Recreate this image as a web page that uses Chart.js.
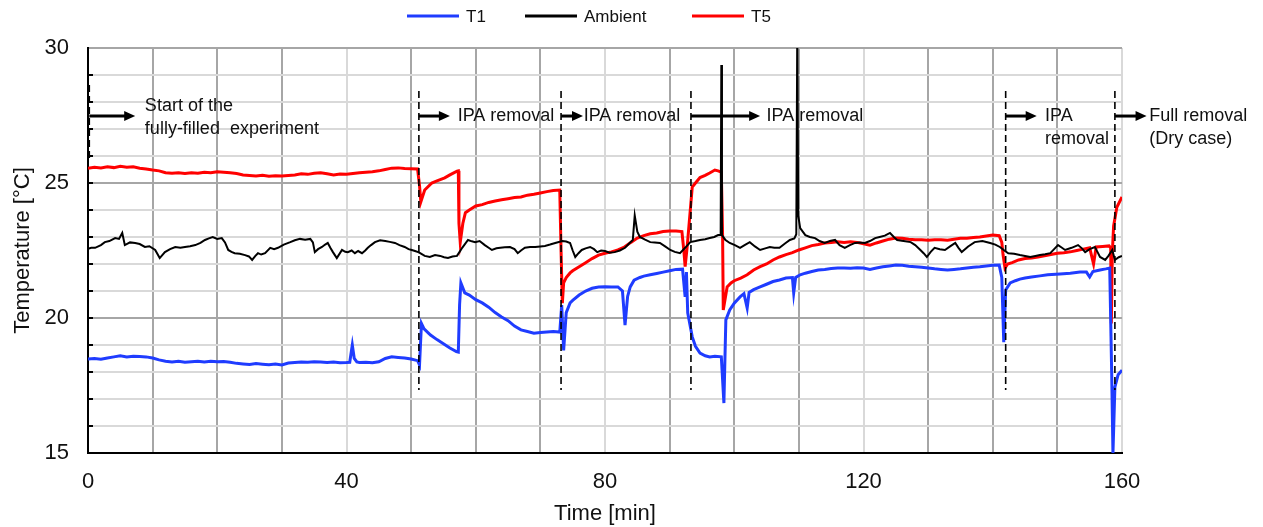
<!DOCTYPE html>
<html><head><meta charset="utf-8">
<script src="https://cdn.jsdelivr.net/npm/chart.js@4.4.1/dist/chart.umd.min.js"></script>
<style>html,body{margin:0;padding:0;background:#fff;}canvas{display:block;}</style>
</head><body>
<canvas id="c" width="1263" height="527"></canvas>
<script>
// ---- Data: [time (min), temperature (°C)] ----
const SERIES_LABELS = ['T1', 'Ambient', 'T5'];
const X_TICK_LABELS = [0, 40, 80, 120, 160];
const Y_TICK_LABELS = [15, 20, 25, 30];

const T1_DATA = [
[0,18.48],[1,18.5],[2,18.47],[3,18.52],[4,18.56],[5,18.6],[6,18.56],[7,18.58],[8,18.57],[9,18.56],[10,18.52],
[11,18.45],[12,18.4],[13,18.37],[14,18.4],[15,18.36],[16,18.38],[17,18.4],[18,18.37],[19,18.4],[20,18.38],
[21,18.39],[22,18.36],[23,18.32],[24,18.3],[25,18.28],[26,18.31],[27,18.29],[28,18.27],[29,18.3],[30,18.26],
[31,18.33],[32,18.35],[33,18.37],[34,18.36],[35,18.38],[36,18.37],[37,18.35],[38,18.37],[39,18.34],[40,18.35],
[40.5,18.36],[40.9,19.0],[41.2,18.5],[41.6,18.37],[42,18.35],[43,18.36],[44,18.34],[45,18.38],[46,18.5],[47,18.56],
[48,18.54],[49,18.52],[50,18.48],[51,18.42],[51.3,18.26],[51.6,19.8],[52,19.6],[53,19.37],[54,19.2],[55,19.05],
[56,18.89],[57,18.76],[57.3,18.74],[57.5,20.5],[57.7,21.3],[58.3,20.93],[59,20.85],[60,20.68],[61,20.56],[62,20.4],
[63,20.2],[64,20.04],[65,19.9],[66,19.7],[67,19.56],[68,19.5],[69,19.44],[70,19.46],[71,19.48],[72,19.5],
[73,19.48],[73.3,20.48],[73.6,18.8],[74,20.2],[74.6,20.56],[75,20.65],[76,20.85],[77,21.0],[78,21.1],[79,21.15],
[80,21.16],[81,21.15],[82,21.15],[82.7,21.0],[83.1,19.74],[83.5,20.8],[83.9,21.15],[84.5,21.4],[85.4,21.5],[86,21.55],
[87,21.6],[88,21.65],[89,21.7],[90,21.75],[91,21.8],[92,21.81],[92.4,20.78],[92.6,21.7],[92.8,20.19],[93.5,19.3],
[94,18.95],[94.7,18.7],[95.5,18.6],[96.2,18.56],[97,18.58],[98,18.56],[98.4,16.85],[98.7,19.93],[99.3,20.3],[100,20.55],
[100.9,20.78],[101.5,20.9],[102,20.37],[102.3,20.95],[103,21.05],[104,21.15],[105,21.25],[106,21.35],[107,21.41],[108,21.48],
[109,21.5],[109.2,20.93],[109.5,21.5],[110.2,21.6],[111,21.66],[112,21.72],[113,21.78],[114,21.8],[115,21.83],[116,21.85],
[117,21.85],[118,21.84],[119,21.86],[120,21.85],[121,21.8],[122,21.85],[123,21.9],[124,21.93],[125,21.96],[126,21.95],
[127,21.92],[128,21.9],[129,21.88],[130,21.85],[131,21.82],[132,21.8],[133,21.78],[134,21.8],[135,21.82],[136,21.85],
[137,21.88],[138,21.9],[139,21.93],[140,21.95],[141,21.96],[141.4,21.5],[141.7,19.1],[142,21.04],[142.7,21.3],[143.5,21.38],
[144.2,21.44],[145,21.48],[146,21.52],[147.3,21.56],[148.5,21.6],[150.4,21.63],[152,21.66],[153.5,21.7],[154.5,21.7],[155,21.52],
[155.5,21.72],[156.6,21.78],[157.5,21.82],[158.1,21.85],[158.4,18.0],[158.6,15.0],[158.9,17.44],[159.4,17.9],[160,18.07]
];

const AMBIENT_DATA = [
[0,22.56],[0.5,22.6],[1.1,22.6],[2,22.7],[2.6,22.81],[3.3,22.85],[4.2,22.96],[4.8,22.93],[5.3,23.15],[5.7,22.7],
[6.5,22.8],[7.3,22.78],[8,22.74],[8.8,22.63],[9.5,22.66],[10.4,22.52],[11.1,22.22],[11.9,22.44],[12.7,22.55],[13.5,22.63],
[14.3,22.6],[15,22.63],[15.8,22.66],[16.6,22.7],[17.4,22.78],[18.1,22.89],[18.7,22.95],[19.3,23.0],[20,22.93],[20.7,22.96],
[21.2,22.8],[21.7,22.52],[22.2,22.45],[22.7,22.4],[23.5,22.38],[24.3,22.33],[24.9,22.28],[25.4,22.15],[25.9,22.3],[26.3,22.4],
[26.8,22.35],[27.4,22.4],[28.2,22.6],[28.8,22.55],[29.4,22.6],[30.3,22.72],[31.3,22.81],[32,22.88],[32.8,22.93],[33.6,22.9],
[34.4,22.93],[34.8,22.8],[35.1,22.44],[35.6,22.55],[36.2,22.63],[36.7,22.72],[37.1,22.78],[37.5,22.6],[37.9,22.44],[38.5,22.22],
[39.3,22.52],[39.8,22.45],[40.2,22.44],[40.8,22.5],[41.3,22.4],[41.8,22.48],[42.4,22.4],[42.9,22.5],[43.3,22.6],[43.8,22.7],
[44.4,22.81],[45.2,22.88],[46,22.85],[46.7,22.82],[47.5,22.78],[48.2,22.7],[49,22.63],[49.6,22.55],[50.1,22.52],[50.6,22.48],
[51.1,22.44],[51.4,22.4],[52.1,22.3],[52.9,22.26],[53.7,22.33],[54.5,22.3],[55.1,22.25],[55.7,22.22],[56.4,22.28],[57.1,22.3],
[57.5,22.45],[57.9,22.6],[58.8,22.89],[59.4,22.84],[59.9,22.81],[60.6,22.85],[61.4,22.7],[62,22.6],[62.5,22.52],[63.2,22.58],
[63.8,22.6],[64.5,22.62],[65.3,22.63],[66,22.55],[66.5,22.4],[67,22.5],[67.6,22.6],[68.4,22.63],[69.2,22.63],[70,22.65],
[70.7,22.67],[71.5,22.72],[72.3,22.78],[73.4,22.85],[74,22.83],[74.6,22.78],[75,22.5],[75.4,22.26],[75.9,22.4],[76.4,22.52],
[77,22.58],[77.7,22.63],[78.3,22.55],[78.8,22.44],[79.4,22.5],[80,22.48],[80.7,22.42],[81.5,22.44],[82.3,22.5],[83.1,22.6],
[83.7,22.75],[84.3,22.89],[84.6,23.8],[85,23.2],[85.4,23.0],[86.2,22.9],[87,22.81],[87.7,22.8],[88.5,22.78],[89.3,22.65],
[90.1,22.52],[90.8,22.45],[91.6,22.4],[92.4,22.6],[93.2,22.81],[94,22.85],[94.7,22.89],[95.5,22.92],[96.2,22.96],[96.9,23.0],
[97.5,23.07],[97.9,23.07],[98,29.37],[98.1,23.07],[98.6,22.9],[99.3,22.78],[100.1,22.7],[100.9,22.6],[101.6,22.7],[102.4,22.81],
[103.2,22.65],[104,22.52],[104.8,22.58],[105.5,22.63],[106.2,22.6],[107,22.6],[107.8,22.75],[108.6,22.89],[109.3,22.95],[109.6,23.1],
[109.75,30.6],[109.9,23.8],[110.2,23.33],[111,23.07],[111.7,23.0],[112.5,22.96],[113.2,22.85],[114,22.78],[114.8,22.85],[115.6,22.89],
[116.3,22.7],[117.1,22.6],[117.9,22.7],[118.7,22.78],[119.4,22.8],[120.2,22.78],[121,22.85],[121.8,22.96],[122.5,23.0],[123.3,23.05],
[124.1,23.15],[124.7,23.0],[125.2,22.89],[126.2,22.85],[127.3,22.81],[128,22.7],[128.8,22.52],[129.3,22.4],[129.8,22.26],[130.4,22.45],
[131,22.6],[131.8,22.55],[132.6,22.52],[133.4,22.65],[134.2,22.78],[134.7,22.6],[135.2,22.44],[136.2,22.65],[137.2,22.81],[138.4,22.85],
[139.6,22.78],[140.4,22.72],[141.1,22.63],[141.8,22.5],[142.4,22.4],[143.3,22.38],[144.2,22.33],[145,22.3],[145.8,22.26],[146.6,22.3],
[147.3,22.33],[148.1,22.36],[148.9,22.4],[149.5,22.55],[150.1,22.7],[150.6,22.62],[151.2,22.52],[152.2,22.6],[153.2,22.7],[153.8,22.58],
[154.3,22.44],[155,22.55],[155.8,22.63],[156.2,22.45],[156.6,22.26],[157.4,22.15],[157.9,22.3],[158.5,22.52],[158.9,22.15],[159.5,22.25],
[160,22.3]
];

const T5_DATA = [
[0,25.55],[1,25.58],[2,25.56],[3,25.6],[4,25.57],[5,25.62],[6,25.58],[7,25.6],[8,25.55],[9,25.52],[10,25.48],
[11,25.45],[12,25.38],[13,25.36],[14,25.38],[15,25.35],[16,25.38],[17,25.36],[18,25.4],[19,25.38],[20,25.42],
[21,25.4],[22,25.38],[23,25.35],[24,25.3],[25,25.28],[26,25.26],[27,25.29],[28,25.25],[29,25.27],[30,25.26],
[31,25.28],[32,25.3],[33,25.34],[34,25.32],[35,25.36],[36,25.38],[37,25.34],[38,25.3],[39,25.33],[40,25.32],
[41,25.35],[42,25.38],[43,25.4],[44,25.42],[45,25.45],[46,25.5],[47,25.55],[48,25.56],[49,25.54],[50,25.53],
[51,25.52],[51.3,24.9],[51.5,24.3],[52.1,24.74],[53.2,25.0],[54,25.08],[55.2,25.19],[56,25.3],[57.1,25.44],[57.3,25.45],
[57.4,23.5],[57.6,22.8],[58,23.5],[58.4,23.9],[59,24.0],[60,24.15],[61,24.2],[62,24.28],[63,24.33],[64,24.38],
[65,24.42],[66,24.46],[67,24.48],[68,24.55],[69,24.58],[70,24.63],[71,24.68],[72,24.72],[73,24.74],[73.2,22.5],
[73.4,20.55],[73.6,21.3],[74,21.5],[74.6,21.67],[75,21.75],[76,21.9],[77,22.05],[78,22.2],[79,22.33],[80,22.4],
[81,22.45],[82,22.52],[83,22.63],[84,22.8],[85,22.96],[86,23.05],[87,23.12],[88,23.15],[89,23.2],[90,23.22],
[91,23.22],[91.9,23.2],[92.2,22.5],[92.4,21.9],[92.7,22.6],[93.2,24.0],[93.5,24.85],[94,25.0],[94.7,25.2],[95.5,25.28],
[96.2,25.37],[97,25.48],[97.5,25.45],[98,25.4],[98.2,23.0],[98.3,20.3],[98.9,21.15],[99.5,21.3],[100,21.38],[101,21.48],
[102,21.6],[103,21.78],[104,21.9],[105,22.0],[106,22.15],[107,22.26],[108,22.35],[109,22.42],[110,22.52],[111,22.6],
[112,22.68],[113,22.72],[114,22.78],[115,22.8],[116,22.82],[117,22.8],[118,22.82],[119,22.8],[120,22.75],[121,22.7],
[122,22.78],[123,22.85],[124,22.92],[125,22.96],[126,22.95],[127,22.92],[128,22.9],[129,22.9],[130,22.88],[131,22.9],
[132,22.9],[133,22.88],[134,22.92],[135,22.95],[136,22.95],[137,22.98],[138,23.0],[139,23.04],[140,23.07],[141,23.05],
[141.4,22.8],[141.6,22.33],[141.9,21.85],[142.3,22.0],[143,22.05],[144,22.15],[145,22.2],[146,22.22],[147,22.26],[148,22.3],
[149,22.35],[150,22.4],[151,22.42],[152,22.45],[153,22.5],[154,22.55],[155,22.6],[155.6,22.0],[156,22.63],[157,22.65],
[158,22.67],[158.25,22.6],[158.35,19.8],[158.5,22.4],[158.7,23.4],[159.2,24.1],[160,24.48]
];

// ---- Annotation content (positions in data units) ----
const MARKER_TIMES = [0.2, 51.2, 73.2, 93.3, 142.0, 158.9];
const ARROW_ENDS = [7.3, 56.0, 76.6, 104.0, 146.8, 163.8];
const NOTE_LINES = [
  {t: 8.8, v: 27.85, text: 'Start of the'},
  {t: 8.8, v: 27.0, text: 'fully-filled  experiment'},
  {t: 57.2, v: 27.48, text: 'IPA removal'},
  {t: 76.7, v: 27.48, text: 'IPA removal'},
  {t: 105.0, v: 27.48, text: 'IPA removal'},
  {t: 148.1, v: 27.48, text: 'IPA'},
  {t: 148.1, v: 26.63, text: 'removal'},
  {t: 164.2, v: 27.48, text: 'Full removal'},
  {t: 164.2, v: 26.63, text: '(Dry case)'}
];

const FONT = "'Liberation Sans', Arial, Helvetica, sans-serif";
const BLUE = '#1f3cff', RED = '#ff0000', BLACK = '#000000';
const GRID_DARK = '#a6a6a6', GRID_LIGHT = '#d9d9d9';
const LEGEND_LEFT = [407, 525, 692];
Chart.defaults.font.family = FONT;
Chart.defaults.color = '#000';

const toXY = arr => arr.map(p => ({x: p[0], y: p[1]}));

const annotPlugin = {
  id: 'annot',
  afterDatasetsDraw(chart) {
    const {ctx, scales: {x, y}, chartArea} = chart;
    ctx.save();
    // inward minor ticks on left axis
    ctx.strokeStyle = '#000'; ctx.lineWidth = 2;
    for (let v = 16; v < 30; v++) {
      const py = Math.round(y.getPixelForValue(v));
      ctx.beginPath(); ctx.moveTo(chartArea.left, py); ctx.lineTo(chartArea.left + 5, py); ctx.stroke();
    }
    // dashed markers
    ctx.lineWidth = 1.6; ctx.setLineDash([7, 4]);
    MARKER_TIMES.forEach((t, i) => {
      const px = x.getPixelForValue(t);
      const y0 = y.getPixelForValue(i === 0 ? 28.63 : 28.41);
      const y1 = y.getPixelForValue(i === 0 ? 25.85 : 17.33);
      ctx.beginPath(); ctx.moveTo(px, y0); ctx.lineTo(px, y1); ctx.stroke();
    });
    ctx.setLineDash([]);
    // arrows
    const ay = y.getPixelForValue(27.48);
    MARKER_TIMES.forEach((t, i) => {
      const x0 = x.getPixelForValue(t), x1 = x.getPixelForValue(ARROW_ENDS[i]);
      ctx.lineWidth = 3;
      ctx.beginPath(); ctx.moveTo(x0, ay); ctx.lineTo(x1 - 9, ay); ctx.stroke();
      ctx.beginPath(); ctx.moveTo(x1, ay); ctx.lineTo(x1 - 11, ay - 5); ctx.lineTo(x1 - 11, ay + 5); ctx.closePath();
      ctx.fillStyle = '#000'; ctx.fill();
    });
    // notes
    ctx.font = '18px ' + FONT; ctx.fillStyle = '#111'; ctx.textBaseline = 'middle'; ctx.textAlign = 'left';
    NOTE_LINES.forEach(n => ctx.fillText(n.text, x.getPixelForValue(n.t), y.getPixelForValue(n.v)));
    ctx.restore();
  },
  afterDraw(chart) {
    // legend
    const {ctx} = chart;
    ctx.save();
    ctx.font = '17px ' + FONT; ctx.textBaseline = 'middle'; ctx.textAlign = 'left';
    const ly = 16;
    chart.data.datasets.forEach((ds, i) => {
      const lx = LEGEND_LEFT[i];
      ctx.strokeStyle = ds.borderColor; ctx.lineWidth = 3;
      ctx.beginPath(); ctx.moveTo(lx, ly); ctx.lineTo(lx + 52, ly); ctx.stroke();
      ctx.fillStyle = '#111';
      ctx.fillText(ds.label, lx + 59, ly + 1);
    });
    ctx.restore();
  }
};

new Chart(document.getElementById('c'), {
  type: 'line',
  data: {
    datasets: [
      {label: SERIES_LABELS[0], data: toXY(T1_DATA), borderColor: BLUE, backgroundColor: BLUE, borderWidth: 3, pointRadius: 0, tension: 0},
      {label: SERIES_LABELS[1], data: toXY(AMBIENT_DATA), borderColor: BLACK, backgroundColor: BLACK, borderWidth: 2, pointRadius: 0, tension: 0},
      {label: SERIES_LABELS[2], data: toXY(T5_DATA), borderColor: RED, backgroundColor: RED, borderWidth: 3, pointRadius: 0, tension: 0}
    ]
  },
  options: {
    responsive: false, animation: false, devicePixelRatio: 1,
    layout: {padding: {top: 48, right: 141, bottom: 0, left: 0}},
    plugins: {legend: {display: false}, tooltip: {enabled: false}},
    scales: {
      x: {
        type: 'linear', min: 0, max: 160,
        ticks: {stepSize: 10, autoSkip: false, maxRotation: 0, padding: 16, font: {size: 22}, color: '#111',
          callback: v => X_TICK_LABELS.includes(v) ? String(v) : ''},
        grid: {color: c => (c.tick && c.tick.value % 40 === 0) ? GRID_LIGHT : GRID_DARK, lineWidth: 2, drawTicks: false},
        border: {color: '#000', width: 2},
        title: {display: true, text: 'Time [min]', font: {size: 22}, color: '#111', padding: {top: 4, bottom: 0}},
        afterFit: s => { s.height = 74; }
      },
      y: {
        min: 15, max: 30,
        ticks: {stepSize: 1, autoSkip: false, padding: 19, font: {size: 22}, color: '#111',
          callback: v => Y_TICK_LABELS.includes(v) ? String(v) : ''},
        grid: {color: c => (c.tick && c.tick.value % 5 === 0) ? GRID_DARK : GRID_LIGHT, lineWidth: 2, drawTicks: false},
        border: {color: '#000', width: 2},
        title: {display: true, text: 'Temperature [°C]', font: {size: 22}, color: '#111', padding: {top: 10, bottom: 0}},
        afterFit: s => { s.width = 88; }
      }
    }
  },
  plugins: [annotPlugin]
});
</script>
</body></html>
